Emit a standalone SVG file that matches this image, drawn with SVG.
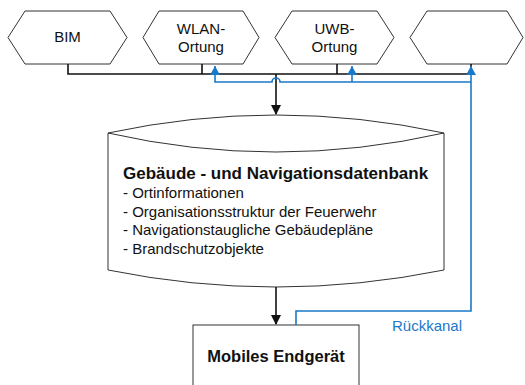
<svg xmlns="http://www.w3.org/2000/svg" width="525" height="385" viewBox="0 0 525 385">
<style>
.hex{fill:#fff;stroke:#333;stroke-width:1}
.t{font-family:"Liberation Sans",Arial,sans-serif;font-size:15px;fill:#111}
.b{font-weight:bold}
.blk{fill:none;stroke:#111;stroke-width:1.6}
.blu{fill:none;stroke:#1a78c8;stroke-width:1.6}
</style>
<defs>
<marker id="ab" markerWidth="10" markerHeight="10" refX="9" refY="5" orient="auto" markerUnits="userSpaceOnUse"><path d="M0,0 L10,5 L0,10 Z" fill="#111"/></marker>
<marker id="au" markerWidth="10" markerHeight="10" refX="9" refY="5" orient="auto" markerUnits="userSpaceOnUse"><path d="M0,0 L9,5 L0,10 Z" fill="#1a78c8"/></marker>
</defs>
<rect width="525" height="385" fill="#fff"/>
<g id="bim"><polygon class="hex" points="8,37.5 25,11 110,11 127,37.5 110,64 25,64"/><text class="t" x="67.5" y="42" text-anchor="middle">BIM</text></g>
<g id="wlan"><polygon class="hex" points="143,37.5 159,11 243,11 259,37.5 243,64 159,64"/><text class="t" x="201" y="34" text-anchor="middle">WLAN-</text><text class="t" x="201" y="52" text-anchor="middle">Ortung</text></g>
<g id="uwb"><polygon class="hex" points="275,37.5 292,11 377,11 394,37.5 377,64 292,64"/><text class="t" x="334.5" y="34" text-anchor="middle">UWB-</text><text class="t" x="334.5" y="52" text-anchor="middle">Ortung</text></g>
<g id="empty"><polygon class="hex" points="410,37.5 427,11 507,11 523,37.5 507,64 427,64"/></g>
<g id="db">
<path d="M108,133 Q276,97 444,133 L444,270 Q276,304 108,270 Z" fill="#fff" stroke="#333" stroke-width="1"/>
<path d="M108,133 Q276,171 444,133" fill="none" stroke="#333" stroke-width="1"/>
<text class="t b" x="123" y="179" style="font-size:17px">Gebäude - und Navigationsdatenbank</text>
<text class="t" x="123" y="198">- Ortinformationen</text>
<text class="t" x="123" y="216.5">- Organisationsstruktur der Feuerwehr</text>
<text class="t" x="123" y="235">- Navigationstaugliche Gebäudepläne</text>
<text class="t" x="123" y="253.5">- Brandschutzobjekte</text>
</g>
<g id="mobile"><rect x="193" y="325" width="166" height="75" fill="#fff" stroke="#333" stroke-width="1"/><text class="t b" x="276" y="362" text-anchor="middle" style="font-size:16.5px">Mobiles Endgerät</text></g>
<g id="connectors">
<path class="blk" d="M68,64 V74 H471 M202,64 V74 M337,64 V74 M471,64 V74"/>
<path class="blk" d="M276,74 V114" marker-end="url(#ab)"/>
<path class="blk" d="M276,287 V324" marker-end="url(#ab)"/>
<path class="blu" d="M296,325 V311 H471 V66" marker-end="url(#au)"/>
<path class="blu" d="M471,82 H280 A4,4 0 0 0 272,82 H215 V66" marker-end="url(#au)"/>
<path class="blu" d="M352,82 V66" marker-end="url(#au)"/>
<text class="t" x="392" y="331" style="fill:#1a78c8">Rückkanal</text>
</g>
</svg>
